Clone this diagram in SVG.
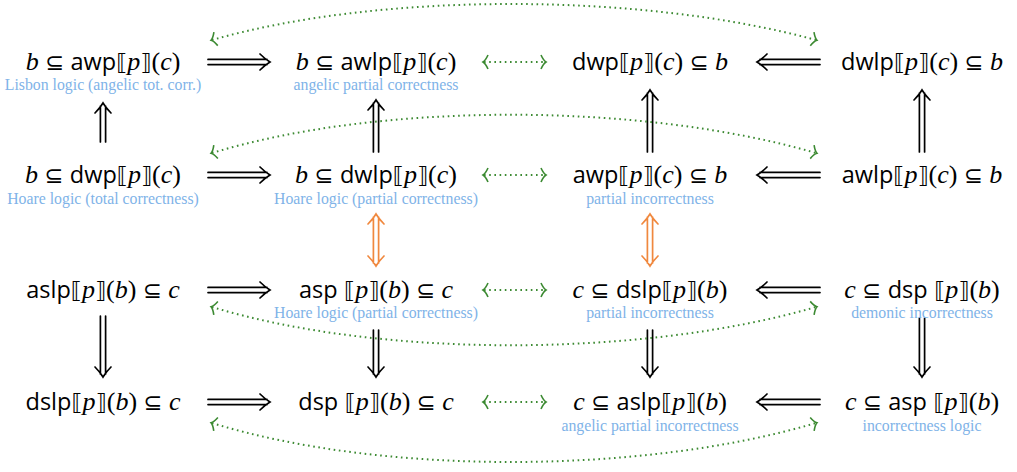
<svg xmlns="http://www.w3.org/2000/svg" width="1017" height="472" viewBox="0 0 1017 472">
<style>
.m{font-family:"Liberation Serif",serif;font-size:26px;fill:#000;text-anchor:middle}
.v{font-style:italic}
.op{font-family:"Open Sans","Noto Sans",sans-serif;font-size:23.5px}
.s{font-family:"DejaVu Sans",sans-serif;font-size:22.5px}
.sub{font-family:"Liberation Serif",serif;font-size:15.8px;fill:#80b3e8;text-anchor:middle}
.dbl{fill:none;stroke:#000;stroke-width:1.7;stroke-linecap:round}
.org{fill:none;stroke:#f0883e;stroke-width:1.7;stroke-linecap:round}
.dot{fill:none;stroke:#3c8a32;stroke-width:2;stroke-dasharray:1.6 3.6;marker-start:url(#gh);marker-end:url(#gh)}
</style>
<defs>
<marker id="gh" markerUnits="userSpaceOnUse" orient="auto-start-reverse" refX="0" refY="0" markerWidth="12" markerHeight="16" viewBox="-8 -8 12 16" overflow="visible">
<path d="M-4,-7 Q-1.5,-1.5 1,0 Q-1.5,1.5 -4,7" fill="none" stroke="#3c8a32" stroke-width="1.6"/>
</marker>
</defs>
<g id="connectors">
<path class="dbl" transform="translate(208,62)" d="M0,-2.6H59M0,2.6H59M52,-8Q57,-3 62,0Q57,3 52,8"/>
<path class="dbl" transform="translate(820,62) rotate(180)" d="M0,-2.6H60M0,2.6H60M53,-8Q58,-3 63,0Q58,3 53,8"/>
<path class="dot" d="M484,62H545"/>
<path class="dbl" transform="translate(208,175)" d="M0,-2.6H59M0,2.6H59M52,-8Q57,-3 62,0Q57,3 52,8"/>
<path class="dbl" transform="translate(820,175) rotate(180)" d="M0,-2.6H60M0,2.6H60M53,-8Q58,-3 63,0Q58,3 53,8"/>
<path class="dot" d="M484,175H545"/>
<path class="dbl" transform="translate(208,290)" d="M0,-2.6H59M0,2.6H59M52,-8Q57,-3 62,0Q57,3 52,8"/>
<path class="dbl" transform="translate(820,290) rotate(180)" d="M0,-2.6H60M0,2.6H60M53,-8Q58,-3 63,0Q58,3 53,8"/>
<path class="dot" d="M484,290H545"/>
<path class="dbl" transform="translate(208,402)" d="M0,-2.6H59M0,2.6H59M52,-8Q57,-3 62,0Q57,3 52,8"/>
<path class="dbl" transform="translate(820,402) rotate(180)" d="M0,-2.6H60M0,2.6H60M53,-8Q58,-3 63,0Q58,3 53,8"/>
<path class="dot" d="M484,402H545"/>
<path class="dbl" transform="translate(103,142) rotate(-90)" d="M0,-2.6H36M0,2.6H36M29,-8Q34,-3 39,0Q34,3 29,8"/>
<path class="dbl" transform="translate(376,152) rotate(-90)" d="M0,-2.6H49M0,2.6H49M42,-8Q47,-3 52,0Q47,3 42,8"/>
<path class="dbl" transform="translate(650,152) rotate(-90)" d="M0,-2.6H59M0,2.6H59M52,-8Q57,-3 62,0Q57,3 52,8"/>
<path class="dbl" transform="translate(922,152) rotate(-90)" d="M0,-2.6H59M0,2.6H59M52,-8Q57,-3 62,0Q57,3 52,8"/>
<path class="org" transform="translate(376,214) rotate(90)" d="M3,-2.6H49M3,2.6H49M10,-8Q5,-3 0,0Q5,3 10,8M42,-8Q47,-3 52,0Q47,3 42,8"/>
<path class="org" transform="translate(650,214) rotate(90)" d="M3,-2.6H49M3,2.6H49M10,-8Q5,-3 0,0Q5,3 10,8M42,-8Q47,-3 52,0Q47,3 42,8"/>
<path class="dbl" transform="translate(103,316) rotate(90)" d="M0,-2.6H58M0,2.6H58M51,-8Q56,-3 61,0Q56,3 51,8"/>
<path class="dbl" transform="translate(376,330) rotate(90)" d="M0,-2.6H44M0,2.6H44M37,-8Q42,-3 47,0Q42,3 37,8"/>
<path class="dbl" transform="translate(650,330) rotate(90)" d="M0,-2.6H44M0,2.6H44M37,-8Q42,-3 47,0Q42,3 37,8"/>
<path class="dbl" transform="translate(922,318) rotate(90)" d="M0,-2.6H56M0,2.6H56M49,-8Q54,-3 59,0Q54,3 49,8"/>
<path class="dot" d="M212,40C380,-8 640,-8 816,40"/>
<path class="dot" d="M212,153C380,102 640,102 816,153"/>
<path class="dot" d="M212,307C380,358 640,358 816,307"/>
<path class="dot" d="M212,423C380,475 640,475 816,423"/>
</g>
<g id="n11"><text class="m" x="103" y="70"><tspan class="v">b</tspan> <tspan class="s">⊆</tspan> <tspan class="op">awp</tspan><tspan class="s">⟦</tspan><tspan class="v">p</tspan><tspan class="s">⟧</tspan>(<tspan class="v">c</tspan>)</text><text class="sub" x="103" y="90">Lisbon logic (angelic tot. corr.)</text></g>
<g id="n12"><text class="m" x="376" y="70"><tspan class="v">b</tspan> <tspan class="s">⊆</tspan> <tspan class="op">awlp</tspan><tspan class="s">⟦</tspan><tspan class="v">p</tspan><tspan class="s">⟧</tspan>(<tspan class="v">c</tspan>)</text><text class="sub" x="376" y="90">angelic partial correctness</text></g>
<g id="n13"><text class="m" x="650" y="70"><tspan class="op">dwp</tspan><tspan class="s">⟦</tspan><tspan class="v">p</tspan><tspan class="s">⟧</tspan>(<tspan class="v">c</tspan>) <tspan class="s">⊆</tspan> <tspan class="v">b</tspan></text></g>
<g id="n14"><text class="m" x="922" y="70"><tspan class="op">dwlp</tspan><tspan class="s">⟦</tspan><tspan class="v">p</tspan><tspan class="s">⟧</tspan>(<tspan class="v">c</tspan>) <tspan class="s">⊆</tspan> <tspan class="v">b</tspan></text></g>
<g id="n21"><text class="m" x="103" y="183"><tspan class="v">b</tspan> <tspan class="s">⊆</tspan> <tspan class="op">dwp</tspan><tspan class="s">⟦</tspan><tspan class="v">p</tspan><tspan class="s">⟧</tspan>(<tspan class="v">c</tspan>)</text><text class="sub" x="103" y="204">Hoare logic (total correctness)</text></g>
<g id="n22"><text class="m" x="376" y="183"><tspan class="v">b</tspan> <tspan class="s">⊆</tspan> <tspan class="op">dwlp</tspan><tspan class="s">⟦</tspan><tspan class="v">p</tspan><tspan class="s">⟧</tspan>(<tspan class="v">c</tspan>)</text><text class="sub" x="376" y="204">Hoare logic (partial correctness)</text></g>
<g id="n23"><text class="m" x="650" y="183"><tspan class="op">awp</tspan><tspan class="s">⟦</tspan><tspan class="v">p</tspan><tspan class="s">⟧</tspan>(<tspan class="v">c</tspan>) <tspan class="s">⊆</tspan> <tspan class="v">b</tspan></text><text class="sub" x="650" y="204">partial incorrectness</text></g>
<g id="n24"><text class="m" x="922" y="183"><tspan class="op">awlp</tspan><tspan class="s">⟦</tspan><tspan class="v">p</tspan><tspan class="s">⟧</tspan>(<tspan class="v">c</tspan>) <tspan class="s">⊆</tspan> <tspan class="v">b</tspan></text></g>
<g id="n31"><text class="m" x="103" y="298"><tspan class="op">aslp</tspan><tspan class="s">⟦</tspan><tspan class="v">p</tspan><tspan class="s">⟧</tspan>(<tspan class="v">b</tspan>) <tspan class="s">⊆</tspan> <tspan class="v">c</tspan></text></g>
<g id="n32"><text class="m" x="376" y="298"><tspan class="op">asp</tspan> <tspan class="s">⟦</tspan><tspan class="v">p</tspan><tspan class="s">⟧</tspan>(<tspan class="v">b</tspan>) <tspan class="s">⊆</tspan> <tspan class="v">c</tspan></text><text class="sub" x="376" y="318">Hoare logic (partial correctness)</text></g>
<g id="n33"><text class="m" x="650" y="298"><tspan class="v">c</tspan> <tspan class="s">⊆</tspan> <tspan class="op">dslp</tspan><tspan class="s">⟦</tspan><tspan class="v">p</tspan><tspan class="s">⟧</tspan>(<tspan class="v">b</tspan>)</text><text class="sub" x="650" y="318">partial incorrectness</text></g>
<g id="n34"><text class="m" x="922" y="298"><tspan class="v">c</tspan> <tspan class="s">⊆</tspan> <tspan class="op">dsp</tspan> <tspan class="s">⟦</tspan><tspan class="v">p</tspan><tspan class="s">⟧</tspan>(<tspan class="v">b</tspan>)</text><text class="sub" x="922" y="318">demonic incorrectness</text></g>
<g id="n41"><text class="m" x="103" y="410"><tspan class="op">dslp</tspan><tspan class="s">⟦</tspan><tspan class="v">p</tspan><tspan class="s">⟧</tspan>(<tspan class="v">b</tspan>) <tspan class="s">⊆</tspan> <tspan class="v">c</tspan></text></g>
<g id="n42"><text class="m" x="376" y="410"><tspan class="op">dsp</tspan> <tspan class="s">⟦</tspan><tspan class="v">p</tspan><tspan class="s">⟧</tspan>(<tspan class="v">b</tspan>) <tspan class="s">⊆</tspan> <tspan class="v">c</tspan></text></g>
<g id="n43"><text class="m" x="650" y="410"><tspan class="v">c</tspan> <tspan class="s">⊆</tspan> <tspan class="op">aslp</tspan><tspan class="s">⟦</tspan><tspan class="v">p</tspan><tspan class="s">⟧</tspan>(<tspan class="v">b</tspan>)</text><text class="sub" x="650" y="431">angelic partial incorrectness</text></g>
<g id="n44"><text class="m" x="922" y="410"><tspan class="v">c</tspan> <tspan class="s">⊆</tspan> <tspan class="op">asp</tspan> <tspan class="s">⟦</tspan><tspan class="v">p</tspan><tspan class="s">⟧</tspan>(<tspan class="v">b</tspan>)</text><text class="sub" x="922" y="431">incorrectness logic</text></g>
</svg>
